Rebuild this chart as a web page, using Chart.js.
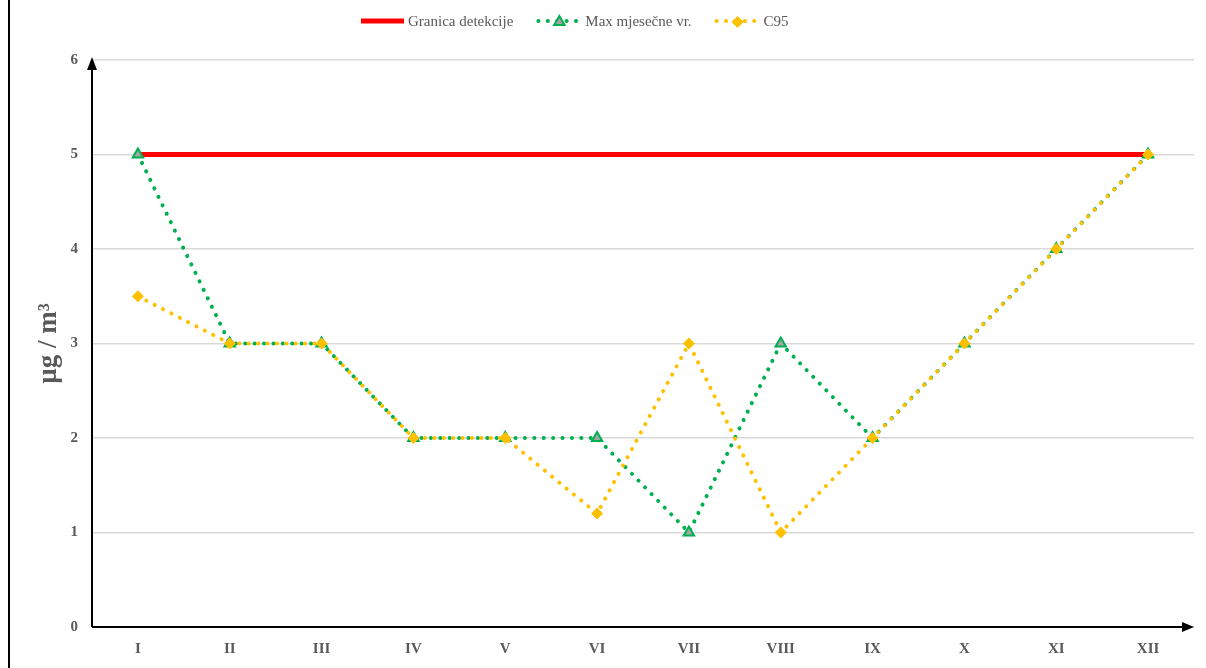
<!DOCTYPE html>
<html>
<head>
<meta charset="utf-8">
<script src="https://cdn.jsdelivr.net/npm/chart.js@4.4.1/dist/chart.umd.min.js"></script>
<style>
  html, body { margin: 0; padding: 0; background: #fff; }
  #wrap { width: 1206px; height: 668px; position: relative; }
</style>
</head>
<body>
<div id="wrap"><canvas id="chart" width="1206" height="668"></canvas></div>
<script>
// podaci
const months = ['I', 'II', 'III', 'IV', 'V', 'VI', 'VII', 'VIII', 'IX', 'X', 'XI', 'XII'];
const granica = [5, 5, 5, 5, 5, 5, 5, 5, 5, 5, 5, 5];
const maxMjesecne = [5, 3, 3, 2, 2, 2, 1, 3, 2, 3, 4, 5];
const c95 = [3.5, 3, 3, 2, 2, 1.2, 3, 1, 2, 3, 4, 5];
const yTicks = [0, 1, 2, 3, 4, 5, 6];

const GRAY = '#595959';
const SERIF = '"Liberation Serif", "Times New Roman", serif';

// legenda + strelice na osima
const axesPlugin = {
    id: 'axesPlugin',
    afterDraw(chart) {
        const ctx = chart.ctx;
        const area = chart.chartArea;
        ctx.save();

        // okvir lijevo
        ctx.strokeStyle = '#000';
        ctx.lineWidth = 2;
        ctx.beginPath();
        ctx.moveTo(9, 0);
        ctx.lineTo(9, 668);
        ctx.stroke();

        // y os
        ctx.beginPath();
        ctx.moveTo(area.left, area.bottom);
        ctx.lineTo(area.left, area.top + 2);
        ctx.stroke();
        ctx.fillStyle = '#000';
        ctx.beginPath();
        ctx.moveTo(area.left, area.top - 3);
        ctx.lineTo(area.left - 5, area.top + 10);
        ctx.lineTo(area.left + 5, area.top + 10);
        ctx.closePath();
        ctx.fill();

        // x os
        ctx.beginPath();
        ctx.moveTo(area.left, area.bottom);
        ctx.lineTo(area.right - 6, area.bottom);
        ctx.stroke();
        ctx.beginPath();
        ctx.moveTo(area.right, area.bottom);
        ctx.lineTo(area.right - 12, area.bottom - 5);
        ctx.lineTo(area.right - 12, area.bottom + 5);
        ctx.closePath();
        ctx.fill();

        // legenda
        const ly = 21;
        let x = 360;
        ctx.font = '15px ' + SERIF;
        ctx.textBaseline = 'middle';
        chart.data.datasets.forEach((ds) => {
            ctx.save();
            ctx.strokeStyle = ds.borderColor;
            ctx.lineWidth = ds.borderWidth;
            ctx.lineCap = ds.borderCapStyle || 'butt';
            ctx.setLineDash(ds.borderDash || []);
            ctx.beginPath();
            ctx.moveTo(x + 1, ly);
            ctx.lineTo(x + 44, ly);
            ctx.stroke();
            ctx.restore();
            if (ds.pointRadius > 0) {
                ctx.fillStyle = ds.pointBackgroundColor;
                ctx.strokeStyle = ds.pointBorderColor;
                ctx.lineWidth = ds.pointBorderWidth;
                ctx.setLineDash([]);
                Chart.helpers.drawPoint(ctx, {
                    pointStyle: ds.pointStyle,
                    radius: ds.pointRadius,
                    rotation: 0,
                    borderWidth: ds.pointBorderWidth
                }, x + 22, ly + 1);
            }
            ctx.fillStyle = GRAY;
            ctx.textAlign = 'left';
            ctx.fillText(ds.label, x + 48, ly + 1);
            x += 48 + ctx.measureText(ds.label).width + 24;
        });
        ctx.restore();
    }
};

new Chart(document.getElementById('chart'), {
    type: 'line',
    data: {
        labels: months,
        datasets: [
            {
                label: 'Granica detekcije',
                data: granica,
                borderColor: '#ff0000',
                backgroundColor: '#ff0000',
                borderWidth: 5,
                pointRadius: 0,
                order: 3
            },
            {
                label: 'Max mjesečne vr.',
                data: maxMjesecne,
                borderColor: '#00b050',
                borderWidth: 4,
                borderDash: [0.1, 9.3],
                borderCapStyle: 'round',
                pointStyle: 'triangle',
                pointRadius: 6,
                pointBorderWidth: 2,
                pointBackgroundColor: '#a5a5a5',
                pointBorderColor: '#00b050',
                order: 2
            },
            {
                label: 'C95',
                data: c95,
                borderColor: '#ffc000',
                borderWidth: 4,
                borderDash: [0.1, 9.3],
                borderCapStyle: 'round',
                pointStyle: 'rectRot',
                pointRadius: 5.5,
                pointBorderWidth: 1,
                pointBackgroundColor: '#ffc000',
                pointBorderColor: '#ffc000',
                order: 1
            }
        ]
    },
    options: {
        responsive: false,
        animation: false,
        layout: { padding: { top: 60, right: 12, left: 0, bottom: 0 } },
        plugins: {
            legend: { display: false },
            tooltip: { enabled: false }
        },
        scales: {
            x: {
                offset: true,
                grid: { display: false, drawTicks: false },
                border: { display: false },
                ticks: {
                    color: GRAY,
                    font: { family: SERIF, size: 15, weight: 'bold' },
                    padding: 13,
                    maxRotation: 0
                },
                afterFit(scale) { scale.height = 41; }
            },
            y: {
                min: 0,
                max: 6,
                afterBuildTicks(scale) { scale.ticks = yTicks.map((v) => ({ value: v })); },
                grid: { color: '#d9d9d9', lineWidth: 1.5, drawTicks: false },
                border: { display: false },
                ticks: {
                    color: GRAY,
                    font: { family: SERIF, size: 15, weight: 'bold' },
                    padding: 14
                },
                title: {
                    display: true,
                    text: 'µg / m³',
                    color: GRAY,
                    font: { family: SERIF, size: 27, weight: 'bold' },
                    padding: { top: 33, bottom: 0 }
                },
                afterFit(scale) { scale.width = 92; }
            }
        }
    },
    plugins: [axesPlugin]
});
</script>
</body>
</html>
